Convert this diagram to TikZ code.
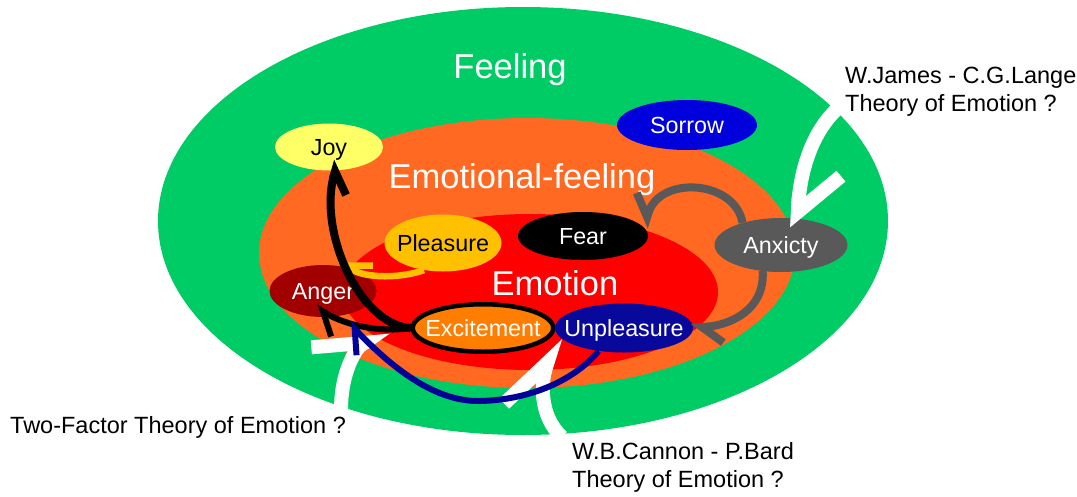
\documentclass[tikz,border=0pt]{standalone}
\usepackage{fontspec}
\setmainfont{Liberation Sans}
\usetikzlibrary{shapes.geometric, arrows.meta}

\definecolor{feelgreen}{RGB}{0,204,102}
\definecolor{efeelorange}{RGB}{255,105,34}
\definecolor{emored}{RGB}{255,0,0}
\definecolor{joyyellow}{RGB}{255,255,102}
\definecolor{sorrowblue}{RGB}{0,0,221}
\definecolor{pleasuregold}{RGB}{255,192,0}
\definecolor{angerred}{RGB}{162,0,0}
\definecolor{excorange}{RGB}{255,125,0}
\definecolor{unpblue}{RGB}{8,8,155}
\definecolor{anxgray}{RGB}{89,89,89}
\definecolor{arrowblue}{RGB}{0,0,153}

% text centred on its capitals, taking no room in the node
\newcommand{\midtext}[1]{\makebox[0pt]{\smash{\raisebox{-0.358em}{#1}}}}

\begin{document}
\begin{tikzpicture}[x=1pt, y=-1pt,
  emo/.style={ellipse, inner sep=0pt, font=\fontsize{23.3}{28}\selectfont},
  big/.style={inner sep=0pt, text=white, font=\fontsize{34.5}{40}\selectfont},
  theory/.style={inner sep=0pt, anchor=base west, align=left, font=\fontsize{23.5}{27.5}\selectfont},
  theoryarrow/.style args={#1/#2}{draw=white, line width=14pt, -{Straight Barb[left, sharp, length=#1, width=#2]}},
  thinbarbL/.style={-{Straight Barb[left, sharp, length=20pt, width=34pt]}},
  thinbarbR/.style={-{Straight Barb[right, sharp, length=20pt, width=34pt]}}
]
\fill[white] (0,0) rectangle (1077,496);
\useasboundingbox (0,0) rectangle (1077,496);

% nested regions
\fill[feelgreen] (523,221) ellipse [x radius=365pt, y radius=214pt];
\fill[efeelorange] (527,253) ellipse [x radius=268pt, y radius=135pt];
\fill[emored] (530,292) ellipse [x radius=188pt, y radius=78pt];

\node[big] (feeling) at (510,66) {\midtext{Feeling}};
\node[big] (efeeling) at (522,176.5) {\midtext{Emotional-feeling}};
\node[big] (emotion) at (555,283.5) {\midtext{Emotion}};

% emotions
\node[emo, fill=joyyellow, minimum width=108pt, minimum height=47pt] (joy) at (329,147) {\midtext{Joy}};
\node[emo, fill=sorrowblue, text=white, minimum width=140pt, minimum height=50pt] (sorrow) at (687,125) {\midtext{Sorrow}};
\node[emo, fill=pleasuregold, minimum width=117pt, minimum height=57pt] (pleasure) at (443,243) {\midtext{Pleasure}};
\node[emo, fill=black, text=white, minimum width=130pt, minimum height=48pt] (fear) at (583,236) {\midtext{Fear}};
\node[emo, fill=angerred, text=white, minimum width=107pt, minimum height=52pt] (anger) at (323,291) {\midtext{Anger}};
\node[emo, fill=excorange, text=white, draw=black, line width=4.5pt, minimum width=140.5pt, minimum height=47.5pt] (excite) at (483,328) {\midtext{Excitement}};
\node[emo, fill=unpblue, text=white, minimum width=138pt, minimum height=49pt] (unpleasure) at (624,328) {\midtext{Unpleasure}};
\node[emo, fill=anxgray, text=white, minimum width=133pt, minimum height=54pt] (anxiety) at (781,245) {\midtext{Anxicty}};

% theories (anchored on the baseline of the last line)
\node[theory] (jl) at (845,111) {W.James - C.G.Lange\\Theory of Emotion ?};
\node[theory] (tf) at (10,433.5) {Two-Factor Theory of Emotion ?};
\node[theory] (cb) at (572,487) {W.B.Cannon - P.Bard\\Theory of Emotion ?};

\coordinate (jlTail) at (836,110);
\coordinate (tfTail) at (341,410);
\coordinate (cbTail) at (562,437);
\coordinate (onJoyPath) at (340,260);

\draw[theoryarrow=38pt/82pt] (jlTail) .. controls (810,135) and (800,175) .. ([shift={(16pt,-10pt)}]anxiety.north);
\draw[theoryarrow=46pt/54pt] (tfTail) .. controls (341,366) and (360,346) .. ([xshift=-25pt]excite.west);
\draw[theoryarrow=52pt/58pt] (cbTail) .. controls (538,415) and (542,380) .. ([yshift=-9pt]excite.east);

% transitions between emotions
\draw[draw=anxgray, line width=8pt, thinbarbR] (anxiety.150) .. controls (735,180) and (660,175) .. (fear.8);
\draw[draw=anxgray, line width=8pt, thinbarbL] (anxiety.235) .. controls (765,310) and (730,325) .. ([xshift=-2pt]unpleasure.east);
\draw[draw=pleasuregold, line width=6.5pt, thinbarbR] (pleasure.235) .. controls (395,280) and (360,277) .. (onJoyPath);
\draw[draw=black, line width=8pt, thinbarbR] (excite.west) .. controls (360,325) and (318,232) .. ([shift={(9pt,10pt)}]joy.south);
\draw[draw=black, line width=6pt, thinbarbL] (excite.west) .. controls (380,333) and (345,325) .. ([shift={(-7pt,10pt)}]anger.south);
\draw[draw=arrowblue, line width=6pt, thinbarbL] (unpleasure.222) .. controls (575,380) and (530,400) .. (480,401) .. controls (430,402) and (385,360) .. ([shift={(26pt,-6pt)}]anger.south);
\end{tikzpicture}
\end{document}
